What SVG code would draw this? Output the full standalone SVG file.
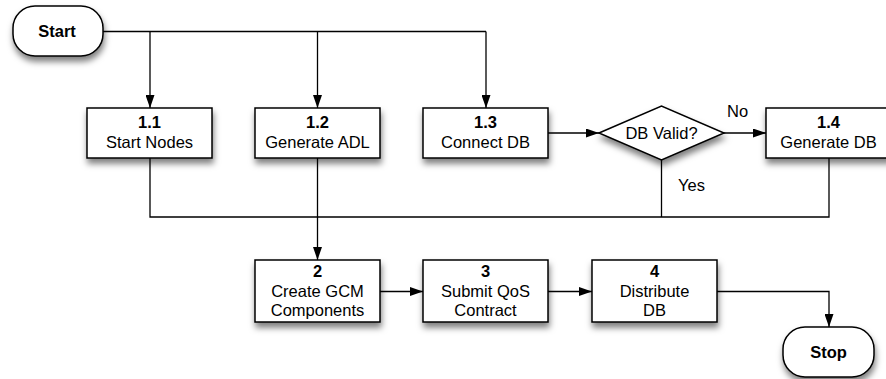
<svg xmlns="http://www.w3.org/2000/svg" width="886" height="379" viewBox="0 0 886 379">
<defs>
<filter id="sh" x="-20%" y="-20%" width="140%" height="160%">
<feDropShadow dx="1" dy="5" stdDeviation="3" flood-color="#000" flood-opacity="0.5"/>
</filter>
<marker id="ah" viewBox="0 0 13 9" refX="13" refY="4.5" markerWidth="13" markerHeight="9" markerUnits="userSpaceOnUse" orient="auto">
<path d="M0,0 L13,4.5 L0,9 Z" fill="#000"/>
</marker>
<style>
.box{fill:#fff;stroke:#000;stroke-width:1.5;filter:url(#sh)}
.t{font-family:"Liberation Sans",Arial,sans-serif;font-size:16.5px;fill:#000;text-anchor:middle}
.b{font-weight:bold}
.l{font-family:"Liberation Sans",Arial,sans-serif;font-size:16.5px;fill:#000}
.c{fill:none;stroke:#000;stroke-width:1.3}
.a{marker-end:url(#ah)}
</style>
</defs>
<g id="connectors">
<path class="c" d="M103,31.5 H486"/>
<path class="c a" d="M150,31.5 V108"/>
<path class="c a" d="M317.5,31.5 V108"/>
<path class="c a" d="M486,31.5 V108"/>
<path class="c a" d="M548,133 H599"/>
<path class="c a" d="M724,133 H766"/>
<path class="c" d="M150,158 V217 H829 V158"/>
<path class="c" d="M661.5,160 V217"/>
<path class="c a" d="M317.5,158 V260"/>
<path class="c a" d="M380,291.5 H423"/>
<path class="c a" d="M548,291.5 H592"/>
<path class="c a" d="M717,291.5 H829 V327"/>
<text class="l" x="727" y="117">No</text>
<text class="l" x="678" y="191">Yes</text>
</g>
<g id="start">
<rect class="box" x="13" y="6" width="90" height="50" rx="22" ry="22"/>
<text class="t b" x="57" y="37">Start</text>
</g>
<g id="n1_1">
<rect class="box" x="87" y="108" width="125" height="50"/>
<text class="t b" x="149.5" y="128">1.1</text>
<text class="t" x="149.5" y="148">Start Nodes</text>
</g>
<g id="n1_2">
<rect class="box" x="255" y="108" width="125" height="50"/>
<text class="t b" x="317.5" y="128">1.2</text>
<text class="t" x="317.5" y="148">Generate ADL</text>
</g>
<g id="n1_3">
<rect class="box" x="423" y="108" width="125" height="50"/>
<text class="t b" x="485.5" y="128">1.3</text>
<text class="t" x="485.5" y="148">Connect DB</text>
</g>
<g id="valid">
<polygon class="box" points="599,133 661.5,106 724,133 661.5,160"/>
<text class="t" x="661.5" y="138.5">DB Valid?</text>
</g>
<g id="n1_4">
<rect class="box" x="766" y="108" width="125" height="50"/>
<text class="t b" x="828.5" y="128">1.4</text>
<text class="t" x="828.5" y="148">Generate DB</text>
</g>
<g id="n2">
<rect class="box" x="255" y="260" width="125" height="62"/>
<text class="t b" x="317.5" y="277">2</text>
<text class="t" x="317.5" y="297">Create GCM</text>
<text class="t" x="317.5" y="316">Components</text>
</g>
<g id="n3">
<rect class="box" x="423" y="260" width="125" height="62"/>
<text class="t b" x="485.5" y="277">3</text>
<text class="t" x="485.5" y="297">Submit QoS</text>
<text class="t" x="485.5" y="316">Contract</text>
</g>
<g id="n4">
<rect class="box" x="592" y="260" width="125" height="62"/>
<text class="t b" x="654.5" y="277">4</text>
<text class="t" x="654.5" y="297">Distribute</text>
<text class="t" x="654.5" y="316">DB</text>
</g>
<g id="stop">
<rect class="box" x="783" y="327" width="91" height="50" rx="22" ry="22"/>
<text class="t b" x="828.5" y="358">Stop</text>
</g>
</svg>
